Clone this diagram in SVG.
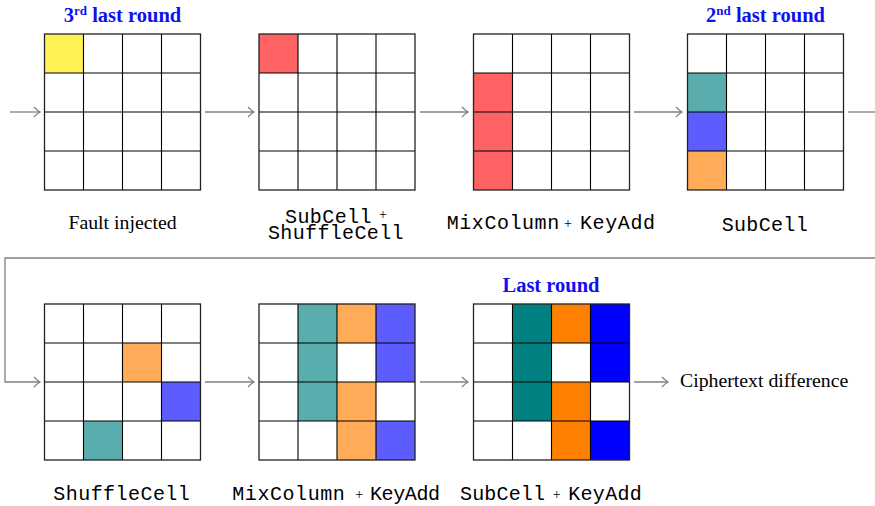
<svg xmlns="http://www.w3.org/2000/svg" width="875" height="506" viewBox="0 0 875 506">
<style>
.w{fill:#fff}
.y{fill:#fff155}.r{fill:#ff6262}.tl{fill:#5aadad}.bl{fill:#5c5cff}.ol{fill:#ffab57}
.ts{fill:#008080}.os{fill:#ff8000}.bs{fill:#0000ff}
.conn path{fill:none;stroke:#808080;stroke-width:1.3}
.title{font-family:"Liberation Serif",serif;font-weight:bold;font-size:20.5px;fill:#1010f0}
.lab{font-family:"Liberation Serif",serif;font-size:19.8px;fill:#000}
.mono{font-family:"Liberation Mono",monospace;font-size:20px;fill:#000}
.plus{font-family:"Liberation Serif",serif;font-size:14px;fill:#000}
</style>
<defs>
<marker id="ah" markerWidth="12" markerHeight="14" refX="8" refY="7" orient="auto" markerUnits="userSpaceOnUse">
<path d="M2 2 Q6 6 8 7 Q6 8 2 12" fill="none" stroke="#808080" stroke-width="1.3"/>
</marker>
<g id="grid" fill="none" stroke="#000" stroke-width="1.1">
<path d="M39 0V156M78 0V156M117 0V156M0 39H156M0 78H156M0 117H156"/>
<rect x="0" y="0" width="156" height="156" stroke="#222" stroke-width="1.3"/>
</g>
</defs>

<g class="conn">
<path d="M10 112 H40" marker-end="url(#ah)"/>
<path d="M205 112 H254" marker-end="url(#ah)"/>
<path d="M420 112 H468" marker-end="url(#ah)"/>
<path d="M634 112 H682" marker-end="url(#ah)"/>
<path d="M848 112 H875"/>
<path d="M875 258 H5 V382 H40" marker-end="url(#ah)"/>
<path d="M205 382 H254" marker-end="url(#ah)"/>
<path d="M420 382 H468" marker-end="url(#ah)"/>
<path d="M634 382 H668" marker-end="url(#ah)"/>
</g>

<g id="n1" transform="translate(44.5,34)">
<rect class="w" width="156" height="156"/>
<rect class="y" x="0" y="0" width="39" height="39"/>
<use href="#grid"/>
</g>
<g id="n2" transform="translate(259,34)">
<rect class="w" width="156" height="156"/>
<rect class="r" x="0" y="0" width="39" height="39"/>
<use href="#grid"/>
</g>
<g id="n3" transform="translate(473.5,34)">
<rect class="w" width="156" height="156"/>
<rect class="r" x="0" y="39" width="39" height="117"/>
<use href="#grid"/>
</g>
<g id="n4" transform="translate(687.5,34)">
<rect class="w" width="156" height="156"/>
<rect class="tl" x="0" y="39" width="39" height="39"/>
<rect class="bl" x="0" y="78" width="39" height="39"/>
<rect class="ol" x="0" y="117" width="39" height="39"/>
<use href="#grid"/>
</g>
<g id="n5" transform="translate(44.5,304)">
<rect class="w" width="156" height="156"/>
<rect class="ol" x="78" y="39" width="39" height="39"/>
<rect class="bl" x="117" y="78" width="39" height="39"/>
<rect class="tl" x="39" y="117" width="39" height="39"/>
<use href="#grid"/>
</g>
<g id="n6" transform="translate(259,304)">
<rect class="w" width="156" height="156"/>
<rect class="tl" x="39" y="0" width="39" height="117"/>
<rect class="ol" x="78" y="0" width="39" height="39"/>
<rect class="ol" x="78" y="78" width="39" height="78"/>
<rect class="bl" x="117" y="0" width="39" height="78"/>
<rect class="bl" x="117" y="117" width="39" height="39"/>
<use href="#grid"/>
</g>
<g id="n7" transform="translate(473.5,304)">
<rect class="w" width="156" height="156"/>
<rect class="ts" x="39" y="0" width="39" height="117"/>
<rect class="os" x="78" y="0" width="39" height="39"/>
<rect class="os" x="78" y="78" width="39" height="78"/>
<rect class="bs" x="117" y="0" width="39" height="78"/>
<rect class="bs" x="117" y="117" width="39" height="39"/>
<use href="#grid"/>
</g>

<g id="titles">
<text class="title" x="122.5" y="22" text-anchor="middle">3<tspan font-size="13" dy="-7">rd</tspan><tspan dy="7"> last round</tspan></text>
<text class="title" x="765.5" y="22" text-anchor="middle">2<tspan font-size="13" dy="-7">nd</tspan><tspan dy="7"> last round</tspan></text>
<text class="title" x="551" y="292" text-anchor="middle">Last round</text>
</g>

<g id="labels">
<text class="lab" x="122.5" y="229" text-anchor="middle">Fault injected</text>
<text class="mono" x="285" y="222.5" textLength="86.5" lengthAdjust="spacing">SubCell</text>
<text class="plus" x="383" y="219" text-anchor="middle">+</text>
<text class="mono" x="268" y="239" textLength="135.5" lengthAdjust="spacing">ShuffleCell</text>
<text class="mono" x="446.7" y="229" textLength="112.5" lengthAdjust="spacing">MixColumn</text>
<text class="plus" x="568" y="227.5" text-anchor="middle">+</text>
<text class="mono" x="580" y="229" textLength="75" lengthAdjust="spacing">KeyAdd</text>
<text class="mono" x="721.7" y="231" textLength="86" lengthAdjust="spacing">SubCell</text>
<text class="mono" x="53.3" y="500" textLength="136.5" lengthAdjust="spacing">ShuffleCell</text>
<text class="mono" x="232.3" y="500" textLength="112.5" lengthAdjust="spacing">MixColumn</text>
<text class="plus" x="359.3" y="498.5" text-anchor="middle">+</text>
<text class="mono" x="370" y="500" textLength="70" lengthAdjust="spacing">KeyAdd</text>
<text class="mono" x="460" y="500" textLength="85" lengthAdjust="spacing">SubCell</text>
<text class="plus" x="556.7" y="498.5" text-anchor="middle">+</text>
<text class="mono" x="568.3" y="500" textLength="73.4" lengthAdjust="spacing">KeyAdd</text>
<text class="lab" x="680" y="387.3">Ciphertext difference</text>
</g>
</svg>
